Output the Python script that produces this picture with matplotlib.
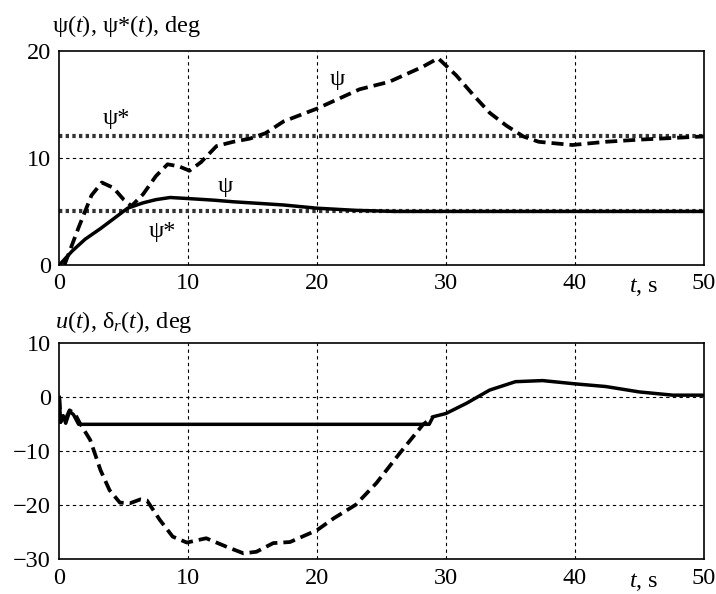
import numpy as np
import matplotlib
matplotlib.use('Agg')
import matplotlib.pyplot as plt

plt.rcParams['font.family'] = ['Liberation Serif', 'DejaVu Serif']
plt.rcParams['mathtext.fontset'] = 'custom'
plt.rcParams['mathtext.rm'] = 'Liberation Serif'
plt.rcParams['mathtext.it'] = 'Liberation Serif:italic'

# top plot: heading for two set points
psi_ref_low = 5
psi_ref_high = 12

t_psi1 = [0, 1, 2, 3.2, 4.2, 5.3, 6.5, 7.5, 8.6, 10, 12, 13.5, 15.5, 17.4, 20, 23, 26, 30, 40, 50]
psi1 = [0, 1.3, 2.4, 3.4, 4.3, 5.3, 5.8, 6.1, 6.3, 6.2, 6.05, 5.9, 5.75, 5.6, 5.3, 5.1, 5.0, 5.0, 5.0, 5.0]

t_psi2 = [0.4, 1.5, 2.5, 3.3, 4.2, 5.0, 5.6, 6.5, 7.5, 8.4, 9.3, 10.1, 11.0, 12.2, 13.5, 14.8, 16.0, 17.4, 20,
          23.3, 25.6, 28.2, 29.4, 30.8, 32.1, 33.4, 34.7, 36.0, 37.2, 39.8, 42.4, 45, 50]
psi2 = [0, 3.5, 6.5, 7.7, 7.2, 6.1, 5.5, 6.6, 8.3, 9.4, 9.2, 8.8, 9.6, 11.1, 11.5, 11.8, 12.3, 13.4, 14.6,
        16.4, 17.1, 18.5, 19.3, 17.7, 15.9, 14.2, 13.0, 12.0, 11.5, 11.2, 11.5, 11.7, 12.0]

# bottom plot: control u(t) and rudder angle
t_u = [0, 0.1, 0.3, 0.5, 0.8, 1.1, 1.5, 28.7, 29.0, 30, 31.6, 33.4, 35.4, 37.5, 40, 42.4, 45, 47.6, 50]
u = [0, -4.6, -3.4, -4.8, -2.6, -3.2, -5.0, -5.0, -3.6, -3.0, -1.1, 1.35, 2.9, 3.1, 2.5, 2.0, 1.0, 0.4, 0.4]

t_d = [0, 0.1, 0.3, 0.5, 0.8, 1.2, 1.6, 2.4, 3.2, 3.9, 4.7, 5.5, 6.3, 6.8, 7.8, 8.8, 9.9, 11.4, 13.0, 14.3,
       15.3, 16.6, 17.9, 20, 21.3, 23.0, 24.6, 26.4, 28.2, 29.0]
delta = [0, -4.6, -3.4, -4.0, -2.4, -3.0, -4.8, -7.9, -13.5, -17.2, -19.5, -19.6, -18.9, -19.1, -22.7, -25.8,
         -26.9, -26.1, -27.7, -28.9, -28.6, -27.0, -26.8, -24.6, -22.4, -19.9, -15.9, -10.4, -5.1, -3.6]

fs = 17.5
fig = plt.figure(figsize=(7.16, 5.94), dpi=100)
ax1 = fig.add_axes([0.0828, 0.5539, 0.900, 0.3607])
ax2 = fig.add_axes([0.0828, 0.0584, 0.900, 0.3636])

grid_kw = dict(color='black', lw=0.8, ls=(0, (3, 3)))

# top
ax1.set_xlim(0, 50)
ax1.set_ylim(0, 20)
ax1.set_xticks([0, 10, 20, 30, 40, 50])
ax1.set_yticks([0, 10, 20])
for x in [10, 20, 30, 40]:
    ax1.axvline(x, **grid_kw, zorder=1)
ax1.axhline(10, **grid_kw, zorder=1)
ax1.axhline(psi_ref_low, color='#333333', lw=3, ls=(0, (0.8, 0.8)), zorder=2)
ax1.axhline(psi_ref_high, color='#333333', lw=3, ls=(0, (0.8, 0.8)), zorder=2)
ax1.plot(t_psi1, psi1, color='black', lw=2.5, zorder=3)
ax1.plot(t_psi2, psi2, color='black', lw=2.7, ls=(0, (3.2, 1.6)), zorder=3)
ax1.text(3.4, 13.2, 'ψ*', fontsize=fs)
ax1.text(12.3, 6.8, 'ψ', fontsize=fs)
ax1.text(6.9, 2.6, 'ψ*', fontsize=fs)
ax1.text(21.0, 16.8, 'ψ', fontsize=fs)
fig.text(0.073, 0.946, 'ψ($t$), ψ*($t$), deg', fontsize=fs)
fig.text(0.878, 0.508, '$t$, s', fontsize=fs)

# bottom
ax2.set_xlim(0, 50)
ax2.set_ylim(-30, 10)
ax2.set_xticks([0, 10, 20, 30, 40, 50])
ax2.set_yticks([-30, -20, -10, 0, 10])
ax2.set_yticklabels(['\u221230', '\u221220', '\u221210', '0', '10'])
for x in [10, 20, 30, 40]:
    ax2.axvline(x, **grid_kw, zorder=1)
for y in [-20, -10, 0]:
    ax2.axhline(y, **grid_kw, zorder=1)
ax2.plot(t_u, u, color='black', lw=2.5, zorder=3)
ax2.plot(t_d, delta, color='black', lw=2.7, ls=(0, (3.2, 1.6)), zorder=3)
fig.text(0.077, 0.448, '$u$($t$), δ$_r$($t$), deg', fontsize=fs)
fig.text(0.878, 0.012, '$t$, s', fontsize=fs)

for ax in (ax1, ax2):
    ax.tick_params(length=0, labelsize=fs, pad=6)
    for s in ax.spines.values():
        s.set_linewidth(1.2)

fig.savefig('out.png', dpi=100)
